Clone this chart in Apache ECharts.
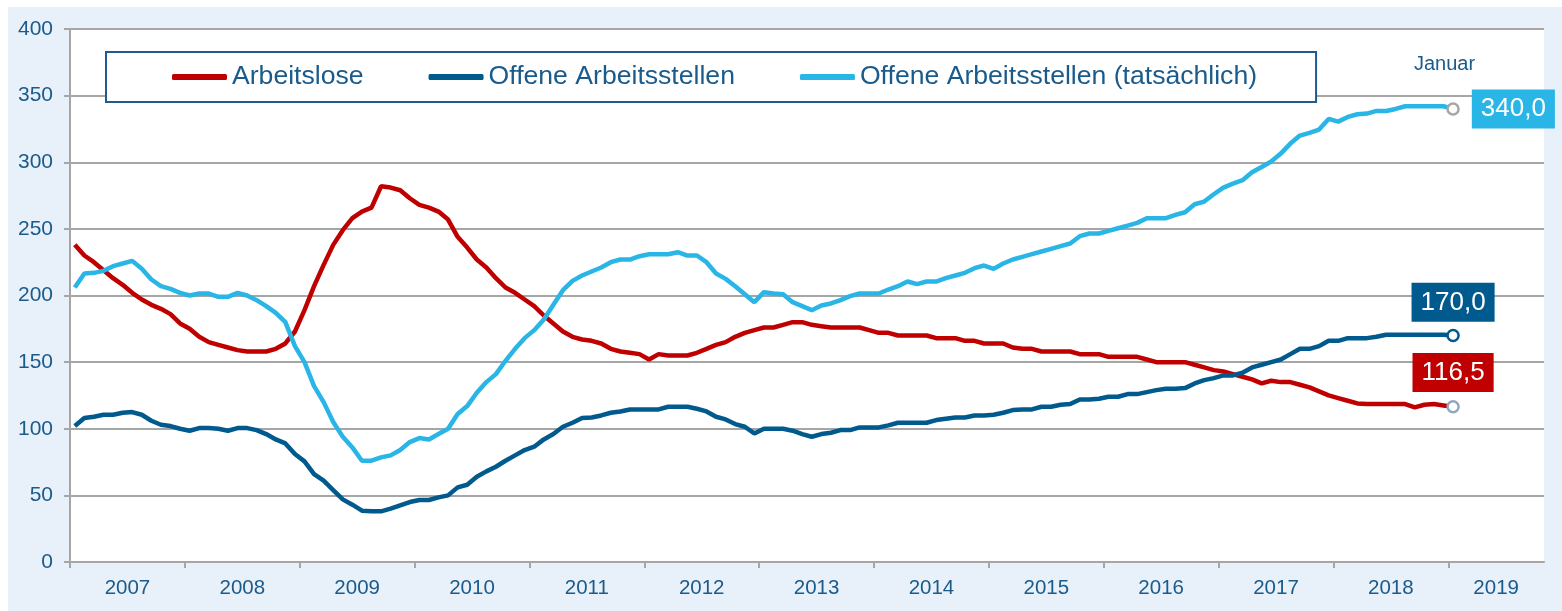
<!DOCTYPE html>
<html>
<head>
<meta charset="utf-8">
<script src="https://cdn.jsdelivr.net/npm/echarts@6/dist/echarts.min.js"></script>
<style>
  html, body { margin: 0; padding: 0; background: #fff; }
  #main { position: absolute; left: 8px; top: 7px; width: 1554px; height: 604px; }
</style>
</head>
<body>
<div id="main"></div>
<script>
// Jahreslabels der x-Achse
var years = ['2007', '2008', '2009', '2010', '2011', '2012', '2013', '2014', '2015', '2016', '2017', '2018', '2019'];

// Monatswerte Jan 2007 - Jan 2019
var arbeitslose = [
  238, 230, 225, 219, 213, 208, 202, 197, 193, 190, 186, 179,
  175, 169, 165, 163, 161, 159, 158, 158, 158, 160, 164, 173,
  189, 207, 223, 238, 249, 258, 263, 266, 282, 281, 279, 273,
  268, 266, 263, 257, 244, 236, 227, 221, 213, 206, 202, 197,
  192, 185, 179, 173, 169, 167, 166, 164, 160, 158, 157, 156,
  152, 156, 155, 155, 155, 157, 160, 163, 165, 169, 172, 174,
  176, 176, 178, 180, 180, 178, 177, 176, 176, 176, 176, 174,
  172, 172, 170, 170, 170, 170, 168, 168, 168, 166, 166, 164,
  164, 164, 161, 160, 160, 158, 158, 158, 158, 156, 156, 156,
  154, 154, 154, 154, 152, 150, 150, 150, 150, 148, 146, 144,
  143, 141, 139, 137, 134, 136, 135, 135, 133, 131, 128, 125,
  123, 121, 119, 118.5, 118.5, 118.5, 118.5, 118.5, 116, 118, 118.5, 117.5,
  116.5
];
var offeneStellen = [
  102, 108, 109, 110.5, 110.5, 112, 112.5, 110.5, 106, 103, 102, 100,
  98.5, 100.5, 100.5, 100, 98.5, 100.5, 100.5, 99, 96, 92, 89, 81,
  75.5, 66, 61, 54, 47, 43, 38.5, 38, 38, 40, 42.5, 45,
  46.5, 46.5, 48.5, 50, 56, 58, 64, 68, 71.5, 76, 80, 84,
  86.5, 92, 96, 101.5, 104.5, 108, 108.5, 110, 112, 113, 114.5, 114.5,
  114.5, 114.5, 116.5, 116.5, 116.5, 115, 113, 109, 107, 103.5, 101.5, 96.5,
  100, 100, 100, 98.5, 96, 94, 96, 97, 99, 99, 101, 101,
  101, 102.5, 104.5, 104.5, 104.5, 104.5, 106.5, 107.5, 108.5, 108.5, 110, 110,
  110.5, 112, 114, 114.5, 114.5, 116.5, 116.5, 118, 118.5, 122, 122, 122.5,
  124, 124, 126, 126, 127.5, 129, 130, 130, 130.5, 134, 136.5, 138,
  140, 140, 142, 146, 148, 150, 152, 156, 160, 160, 162, 166,
  166, 168, 168, 168, 169, 170.5, 170.5, 170.5, 170.5, 170.5, 170.5, 170.5,
  170
];
var offeneStellenTats = [
  206, 216.5, 217, 218.5, 222, 224, 226, 220, 212, 207, 205, 202,
  200, 201.5, 201.5, 199, 199, 202, 200, 196.5, 192, 187, 180, 162,
  150, 132, 120, 105, 94, 86, 76, 76, 78.5, 80, 84, 90,
  93, 92, 96, 100, 111, 117, 127, 135, 141, 151, 160, 168,
  174, 182, 193, 204, 211, 215, 218, 221, 225, 227, 227, 229.5,
  231, 231, 231, 232.5, 230, 230, 225, 216.5, 212.5, 207, 201, 195,
  202.5, 201.5, 201, 195, 192, 189, 192.5, 194, 196.5, 199.5, 201.5, 201.5,
  201.5, 204.5, 207, 210.5, 208.5, 210.5, 210.5, 213, 215, 217, 220.5, 222.5,
  220, 224, 227, 229, 231, 233, 235, 237, 239, 244.5, 246.5, 246.5,
  248.5, 250.5, 252.5, 254.5, 258, 258, 258, 260.5, 262.5, 268.5, 270.5, 276,
  281, 284, 286.5, 292.5, 296.5, 300.5, 306.5, 314, 320, 322, 324.5, 332.5,
  330.5, 334, 336, 336.5, 338.5, 338.5, 340, 342, 342, 342, 342, 342,
  340
];

var FONT = 'Liberation Sans, Arial, sans-serif';
var TEXT = '#1a5b8c';
var GRID = '#a6a6a6';
var RED = '#c00000', DARK = '#005a8e', LIGHT = '#29b5e6';

// Monatskategorien, Achse laeuft bis Okt 2019
var nMonths = 154;
var months = [];
for (var k = 0; k < nMonths; k++) {
  months.push(years[Math.floor(k / 12)] + '-' + (k % 12 + 1));
}
var last = arbeitslose.length - 1;

// Striche an Jahresgrenzen, Labels in Jahresmitte (2019 mittig im Rest)
var tickPos = years.map(function (y, i) { return i * 12; });
var labelPos = years.map(function (y, i) { return Math.min(i * 12 + 6, (144 + nMonths) / 2); });

function fmt(v) { return v.toFixed(1).replace('.', ','); }

function buildData(values, border, label) {
  return values.map(function (v, i) {
    if (i !== last) return v;
    return {
      value: v,
      symbol: 'circle',
      symbolSize: 11,
      itemStyle: { color: '#fff', borderColor: border, borderWidth: 2.5 },
      label: label
    };
  });
}

function valueLabel(bg, pos, dist) {
  return {
    show: true,
    position: pos,
    distance: dist,
    formatter: function (p) { return fmt(p.value); },
    backgroundColor: bg,
    color: '#fff',
    fontFamily: FONT,
    fontSize: 26,
    lineHeight: 30,
    padding: [5, 9, 4, 9]
  };
}

var chart = echarts.init(document.getElementById('main'));

var option = {
  animation: false,
  backgroundColor: '#e8f0f9',
  textStyle: { fontFamily: FONT },
  grid: {
    left: 62, right: 18, top: 22, bottom: 49,
    show: true, backgroundColor: '#fff', borderWidth: 0
  },
  legend: {
    left: 98, top: 45,
    padding: [11, 59, 11, 66],
    itemGap: 65,
    itemWidth: 55,
    itemHeight: 6,
    icon: 'roundRect',
    backgroundColor: '#fff',
    borderColor: '#1f5b8e',
    borderWidth: 2,
    borderRadius: 0,
    textStyle: { color: TEXT, fontSize: 26.6, lineHeight: 28, fontFamily: FONT },
    data: ['Arbeitslose', 'Offene Arbeitsstellen', 'Offene Arbeitsstellen (tatsächlich)']
  },
  graphic: [{
    type: 'text',
    left: 1406, top: 47,
    style: { text: 'Januar', fill: TEXT, font: '20px ' + FONT }
  }],
  xAxis: [{
    type: 'category',
    data: months,
    boundaryGap: true,
    position: 'bottom',
    show: false
  }, {
    type: 'value',
    min: 0, max: nMonths,
    position: 'bottom',
    axisLine: { show: true, lineStyle: { color: GRID, width: 2 } },
    axisTick: { show: true, length: 6, customValues: tickPos, lineStyle: { color: GRID, width: 2 } },
    axisLabel: {
      show: true,
      customValues: labelPos,
      margin: 16,
      color: TEXT, fontSize: 20.5, fontFamily: FONT,
      formatter: function (v) { return years[Math.min(Math.floor(v / 12), years.length - 1)]; }
    },
    splitLine: { show: false }
  }],
  yAxis: {
    type: 'value',
    min: 0, max: 400, interval: 50,
    axisLine: { show: true, lineStyle: { color: GRID, width: 2 } },
    axisTick: { show: true, length: 6, lineStyle: { color: GRID, width: 2 } },
    axisLabel: { color: TEXT, fontSize: 21, fontFamily: FONT, margin: 17 },
    splitLine: { show: true, lineStyle: { color: GRID, width: 2 } }
  },
  series: [{
    name: 'Arbeitslose',
    type: 'line',
    xAxisIndex: 0,
    color: RED,
    symbol: 'none',
    showAllSymbol: true,
    lineStyle: { color: RED, width: 4.5 },
    data: buildData(arbeitslose, '#8fa8c0', valueLabel(RED, 'top', 8))
  }, {
    name: 'Offene Arbeitsstellen',
    type: 'line',
    xAxisIndex: 0,
    color: DARK,
    symbol: 'none',
    showAllSymbol: true,
    lineStyle: { color: DARK, width: 4.5 },
    data: buildData(offeneStellen, DARK, valueLabel(DARK, 'top', 7))
  }, {
    name: 'Offene Arbeitsstellen (tatsächlich)',
    type: 'line',
    xAxisIndex: 0,
    color: LIGHT,
    symbol: 'none',
    showAllSymbol: true,
    lineStyle: { color: LIGHT, width: 4.5 },
    data: buildData(offeneStellenTats, '#a6a6a6', valueLabel(LIGHT, 'right', 12))
  }]
};

chart.setOption(option);
</script>
</body>
</html>
